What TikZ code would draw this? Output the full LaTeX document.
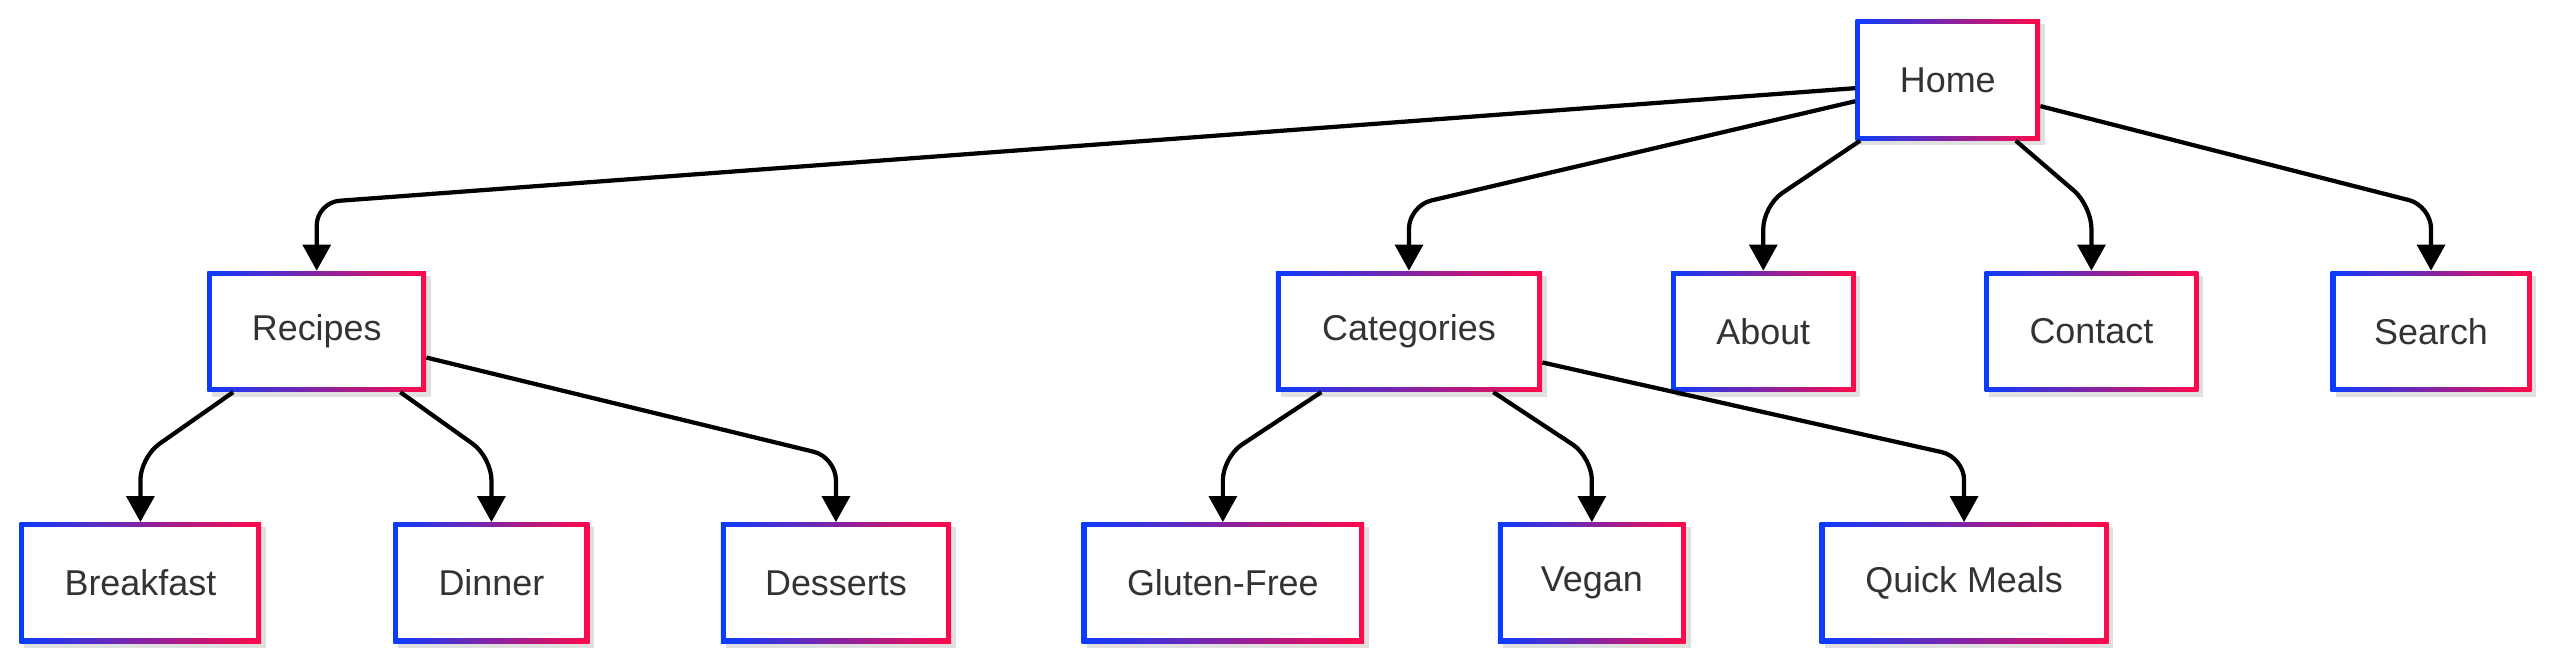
\documentclass[tikz,border=0pt]{standalone}
\usepackage{fontspec}
\setmainfont{Liberation Sans}
\usetikzlibrary{arrows.meta}
\definecolor{bl}{HTML}{0A3CFF}
\definecolor{rd}{HTML}{FF0A4A}
\definecolor{tx}{HTML}{333333}
\tikzset{
  lbl/.style={inner sep=0pt,font=\fontsize{22}{26}\selectfont,text=tx},
  edge/.style={line width=2.6pt,rounded corners=14pt,-{Triangle[length=16pt,width=17pt]}},
}
\newcommand{\bx}[5]{% name, cx, cy, w, text
  \fill[black!12] ({#2-#4/2+3},{#3-37+3}) rectangle ({#2+#4/2+3},{#3+37+3});
  \shade[left color=bl,right color=rd] ({#2-#4/2},{#3-37}) rectangle ({#2+#4/2},{#3+37});
  \fill[white] ({#2-#4/2+3},{#3-37+3}) rectangle ({#2+#4/2-3},{#3+37-3});
  \node[lbl,minimum width=#4pt,minimum height=74pt] (#1) at (#2,#3) {#5};
}
\begin{document}
\begin{tikzpicture}[x=1pt,y=-1pt]
\useasboundingbox (0,0) rectangle (1568,408);
\bx{home}{1193}{49}{113}{Home}
\bx{recipes}{194}{203}{134}{Recipes}
\bx{cat}{863}{203}{163}{Categories}
\bx{about}{1080}{203}{113}{About}
\bx{contact}{1281}{203}{131}{Contact}
\bx{search}{1489}{203}{123}{Search}
\bx{breakfast}{86}{357}{148}{Breakfast}
\bx{dinner}{301}{357}{120}{Dinner}
\bx{desserts}{512}{357}{141}{Desserts}
\bx{gluten}{749}{357}{173}{Gluten-Free}
\bx{vegan}{975}{357}{115}{Vegan}
\bx{quick}{1203}{357}{177}{Quick Meals}
\draw[edge] ([yshift=-5pt]home.west) -- (recipes.north |- 0,124) -- (recipes.north);
\draw[edge] ([yshift=-13pt]home.west) -- (cat.north |- 0,126) -- (cat.north);
\draw[edge] ([xshift=3pt]home.south west) -- (about.north |- 0,126) -- (about.north);
\draw[edge] ([xshift=-15pt]home.south east) -- (contact.north |- 0,126) -- (contact.north);
\draw[edge] ([yshift=-16pt]home.east) -- (search.north |- 0,126) -- (search.north);
\draw[edge] ([xshift=16pt]recipes.south west) -- (breakfast.north |- 0,280) -- (breakfast.north);
\draw[edge] ([xshift=-16pt]recipes.south east) -- (dinner.north |- 0,280) -- (dinner.north);
\draw[edge] ([yshift=-16pt]recipes.east) -- (desserts.north |- 0,280) -- (desserts.north);
\draw[edge] ([xshift=28pt]cat.south west) -- (gluten.north |- 0,280) -- (gluten.north);
\draw[edge] ([xshift=-30pt]cat.south east) -- (vegan.north |- 0,280) -- (vegan.north);
\draw[edge] ([yshift=-19pt]cat.east) -- (quick.north |- 0,280) -- (quick.north);
\end{tikzpicture}
\end{document}
